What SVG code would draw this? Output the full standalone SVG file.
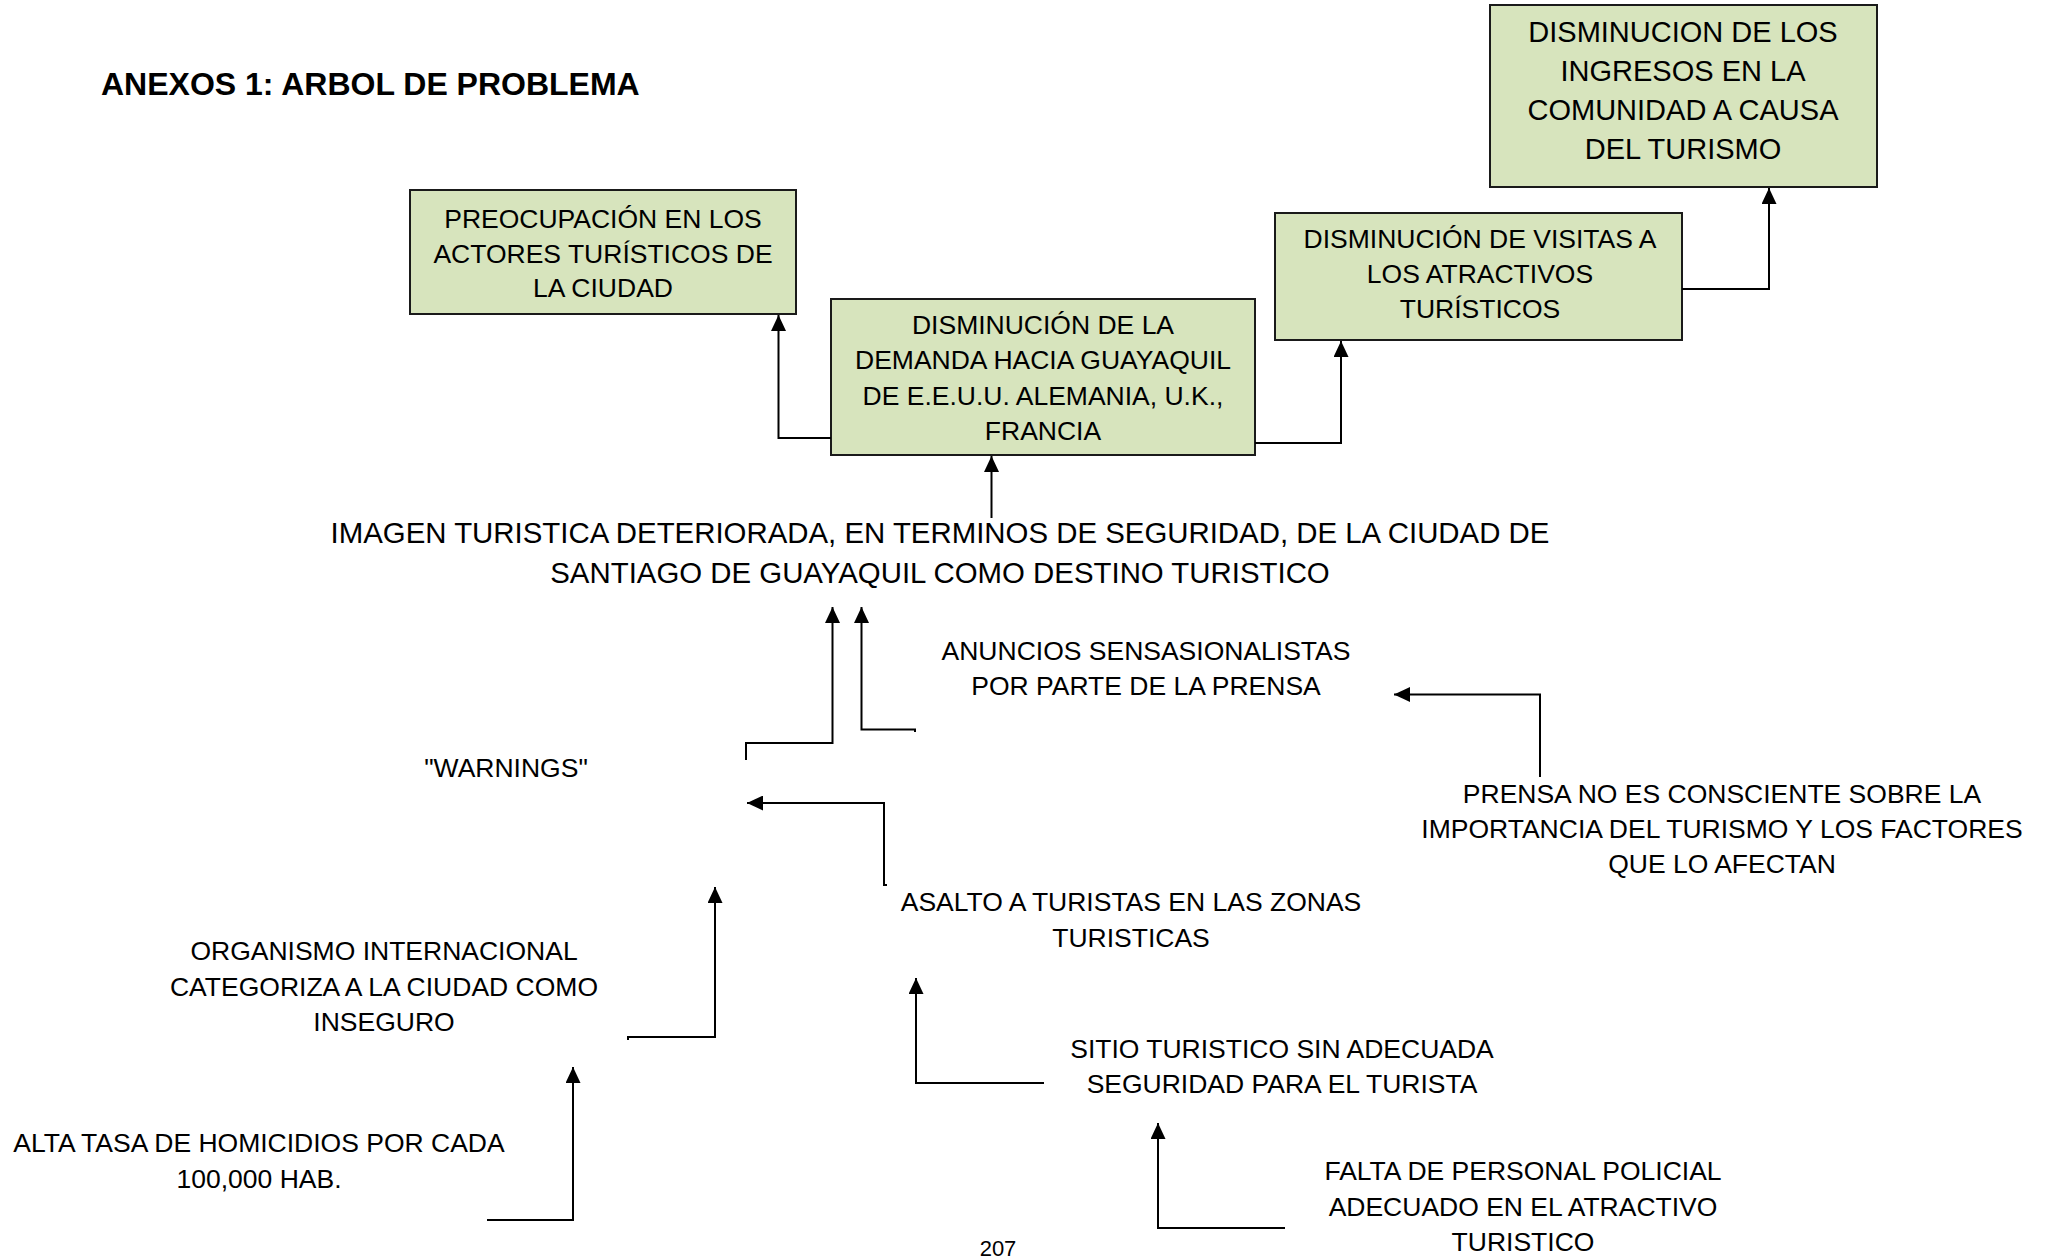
<svg xmlns="http://www.w3.org/2000/svg" width="2049" height="1257" viewBox="0 0 2049 1257">
<style>
  .bg { fill: #ffffff; }
  .box { fill: #D7E4BD; stroke: #1a1a1a; stroke-width: 2; }
  .t { font-family: "Liberation Sans", Arial, sans-serif; font-size: 26.5px; fill: #000; text-anchor: middle; }
  .tb { font-size: 29px; }
  .ti { font-size: 29.4px; }
  .title { font-family: "Liberation Sans", Arial, sans-serif; font-size: 32px; font-weight: bold; fill: #000; }
  .pg { font-family: "Liberation Sans", Arial, sans-serif; font-size: 22px; fill: #000; text-anchor: middle; }
  .c { fill: none; stroke: #000; stroke-width: 2; }
  .ca { fill: none; stroke: #000; stroke-width: 2; marker-end: url(#arr); }
</style>
<defs>
  <marker id="arr" markerUnits="userSpaceOnUse" markerWidth="16" markerHeight="15" viewBox="0 0 16 15" refX="16" refY="7.5" orient="auto">
    <path d="M0,0 L16,7.5 L0,15 Z" fill="#000"/>
  </marker>
</defs>
<rect class="bg" x="0" y="0" width="2049" height="1257"/>

<g id="title">
  <text class="title" x="101" y="95">ANEXOS 1: ARBOL DE PROBLEMA</text>
</g>

<g id="n-preocupacion">
  <rect class="box" x="410" y="190" width="386" height="124"/>
  <text class="t" x="603" y="228">PREOCUPACIÓN EN LOS</text>
  <text class="t" x="603" y="263">ACTORES TURÍSTICOS DE</text>
  <text class="t" x="603" y="297">LA CIUDAD</text>
</g>

<g id="n-demanda">
  <rect class="box" x="831" y="299" width="424" height="156"/>
  <text class="t" x="1043" y="334">DISMINUCIÓN DE LA</text>
  <text class="t" x="1043" y="369">DEMANDA HACIA GUAYAQUIL</text>
  <text class="t" x="1043" y="405">DE E.E.U.U. ALEMANIA, U.K.,</text>
  <text class="t" x="1043" y="440">FRANCIA</text>
</g>

<g id="n-visitas">
  <rect class="box" x="1275" y="213" width="407" height="127"/>
  <text class="t" x="1480" y="248">DISMINUCIÓN DE VISITAS A</text>
  <text class="t" x="1480" y="283">LOS ATRACTIVOS</text>
  <text class="t" x="1480" y="318">TURÍSTICOS</text>
</g>

<g id="n-ingresos">
  <rect class="box" x="1490" y="5" width="387" height="182"/>
  <text class="t tb" x="1683" y="42">DISMINUCION DE LOS</text>
  <text class="t tb" x="1683" y="81">INGRESOS EN LA</text>
  <text class="t tb" x="1683" y="120">COMUNIDAD A CAUSA</text>
  <text class="t tb" x="1683" y="159">DEL TURISMO</text>
</g>

<g id="n-imagen">
  <text class="t ti" x="940" y="543">IMAGEN TURISTICA DETERIORADA, EN TERMINOS DE SEGURIDAD, DE LA CIUDAD DE</text>
  <text class="t ti" x="940" y="583">SANTIAGO DE GUAYAQUIL COMO DESTINO TURISTICO</text>
</g>

<g id="n-anuncios">
  <text class="t" x="1146" y="660">ANUNCIOS SENSASIONALISTAS</text>
  <text class="t" x="1146" y="695">POR PARTE DE LA PRENSA</text>
</g>

<g id="n-warnings">
  <text class="t" x="506" y="777">"WARNINGS"</text>
</g>

<g id="n-prensa">
  <text class="t" x="1722" y="803">PRENSA NO ES CONSCIENTE SOBRE LA</text>
  <text class="t" x="1722" y="838">IMPORTANCIA DEL TURISMO Y LOS FACTORES</text>
  <text class="t" x="1722" y="873">QUE LO AFECTAN</text>
</g>

<g id="n-asalto">
  <text class="t" x="1131" y="911">ASALTO A TURISTAS EN LAS ZONAS</text>
  <text class="t" x="1131" y="947">TURISTICAS</text>
</g>

<g id="n-organismo">
  <text class="t" x="384" y="960">ORGANISMO INTERNACIONAL</text>
  <text class="t" x="384" y="996">CATEGORIZA A LA CIUDAD COMO</text>
  <text class="t" x="384" y="1031">INSEGURO</text>
</g>

<g id="n-sitio">
  <text class="t" x="1282" y="1058">SITIO TURISTICO SIN ADECUADA</text>
  <text class="t" x="1282" y="1093">SEGURIDAD PARA EL TURISTA</text>
</g>

<g id="n-alta">
  <text class="t" x="259" y="1152">ALTA TASA DE HOMICIDIOS POR CADA</text>
  <text class="t" x="259" y="1188">100,000 HAB.</text>
</g>

<g id="n-falta">
  <text class="t" x="1523" y="1180">FALTA DE PERSONAL POLICIAL</text>
  <text class="t" x="1523" y="1216">ADECUADO EN EL ATRACTIVO</text>
  <text class="t" x="1523" y="1251">TURISTICO</text>
</g>

<g id="page-number">
  <text class="pg" x="998" y="1256">207</text>
</g>

<g id="connectors">
  <path class="ca" d="M831,438 H778.5 V315"/>
  <path class="ca" d="M1255,443 H1341 V341"/>
  <path class="ca" d="M1682,289 H1769 V188"/>
  <path class="ca" d="M991.5,518 V456"/>
  <path class="ca" d="M746,760 V743 H832.5 V607"/>
  <path class="ca" d="M915,732 V729.5 H861.5 V607"/>
  <path class="ca" d="M887,885 H884 V803 H747"/>
  <path class="ca" d="M1540,777 V694.5 H1394"/>
  <path class="ca" d="M628,1040 V1037 H715 V887"/>
  <path class="ca" d="M487,1220 H573 V1067"/>
  <path class="ca" d="M1044,1083 H916 V978"/>
  <path class="ca" d="M1285,1228 H1158 V1123"/>
</g>
</svg>
